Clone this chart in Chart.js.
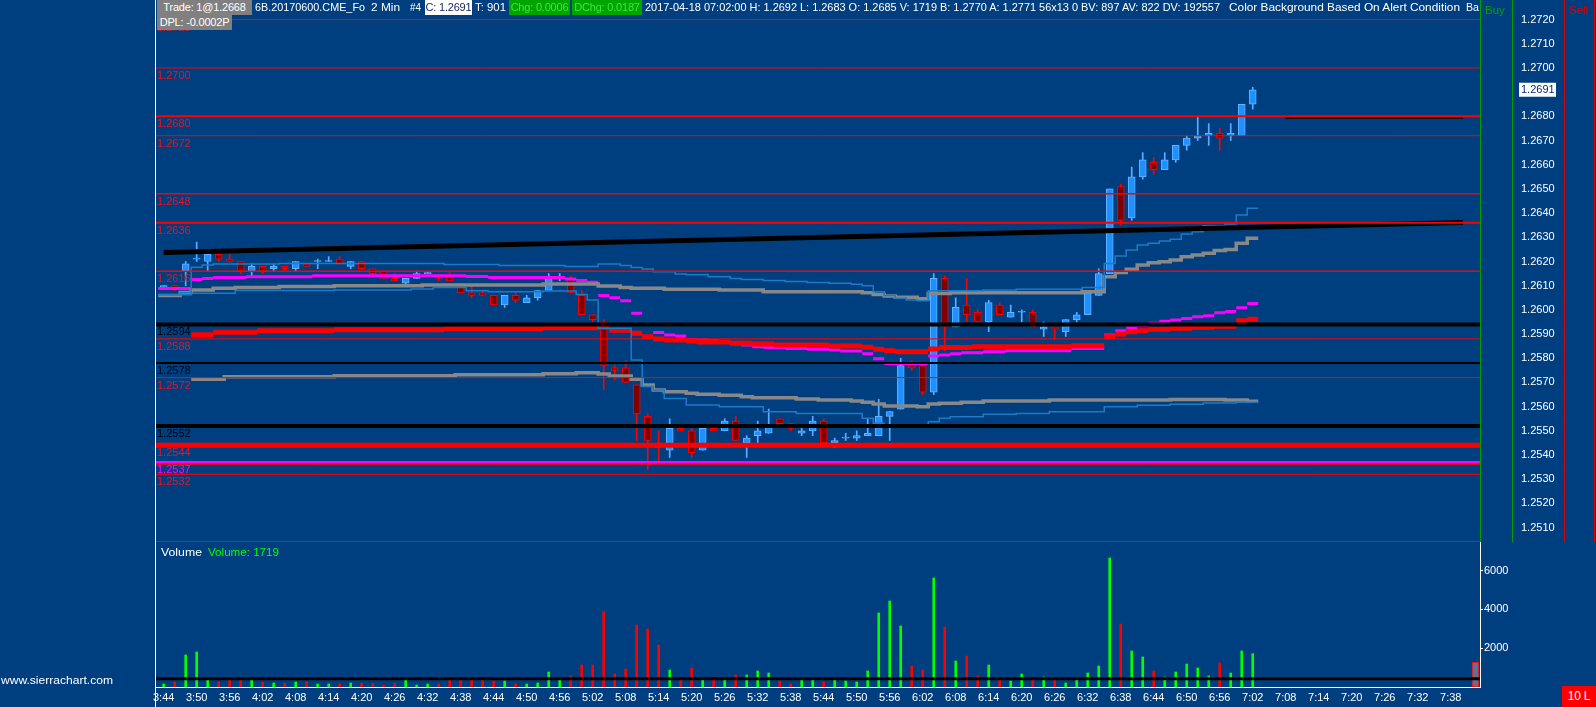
<!DOCTYPE html>
<html><head><meta charset="utf-8">
<script src="https://cdn.jsdelivr.net/npm/chart.js@4.4.0/dist/chart.umd.min.js"></script>
<style>
body{margin:0;background:#003F7F;width:1596px;height:707px;overflow:hidden;position:relative;font-family:"Liberation Sans",Arial,sans-serif}
canvas{position:absolute;left:0}
.t{position:absolute;top:0;font-size:11.5px;line-height:15px;height:15px;white-space:pre;color:#fff;transform-origin:0 0}
.box{position:absolute;top:0;height:15px;font-size:11px;line-height:15px;white-space:pre;text-align:center;overflow:hidden;letter-spacing:-0.2px}
.g{background:#808080;color:#fff}
.w{background:#fff;color:#12245a}
.gr{background:#00A400;color:#3CE63C}
</style></head>
<body>
<canvas id="cp" width="1596" height="542" style="top:0"></canvas>
<canvas id="cv" width="1596" height="165" style="top:542px"></canvas>

<div style="position:absolute;left:155px;top:0;width:1px;height:707px;background:#fff"></div>
<div class="box g" style="left:157px;width:95px">Trade: 1@1.2668</div>
<div class="box g" style="left:157px;top:15px;width:75px">DPL: -0.0002P</div>
<div class="t" style="left:255px" data-w="110">6B.20170600.CME_Fo</div>
<div class="t" style="left:371px" data-w="29">2 Min</div>
<div class="t" style="left:410px" data-w="11">#4</div>
<div class="box w" style="left:425px;width:47px">C: 1.2691</div>
<div class="t" style="left:475px" data-w="31">T: 901</div>
<div class="box gr" style="left:509px;width:61px">Chg: 0.0006</div>
<div class="box gr" style="left:572px;width:70px">DChg: 0.0187</div>
<div class="t" style="left:645px" data-w="575">2017-04-18 07:02:00 H: 1.2692 L: 1.2683 O: 1.2685 V: 1719 B: 1.2770 A: 1.2771 56x13 0 BV: 897 AV: 822 DV: 192557</div>
<div class="t" style="left:1229px" data-w="231">Color Background Based On Alert Condition</div>
<div class="t" style="left:1466px" data-w="13">Ba</div>
<div class="t" style="left:1485px;top:3px;color:#00A000">Buy</div>
<div class="t" style="left:1569px;top:3px;color:#E00000">Sell</div>
<div class="t" style="left:161px;top:545px;font-size:11px" data-w="41">Volume</div>
<div class="t" style="left:208px;top:545px;font-size:11px;color:#00FF00" data-w="71">Volume: 1719</div>
<div class="t" style="left:1px;top:673px;font-size:11px" data-w="112">www.sierrachart.com</div>
<div class="box" style="left:1562px;top:686px;width:34px;height:21px;line-height:21px;font-size:12px;background:#FF0000;color:#fff">10 L</div>

<script>
// 2 min bars, slot 0 = 3:44
const tickLabels = ["3:44","3:50","3:56","4:02","4:08","4:14","4:20","4:26","4:32","4:38","4:44","4:50","4:56","5:02","5:08","5:14","5:20","5:26","5:32","5:38","5:44","5:50","5:56","6:02","6:08","6:14","6:20","6:26","6:32","6:38","6:44","6:50","6:56","7:02","7:08","7:14","7:20","7:26","7:32","7:38"];
const priceTickRange = [1.2510, 1.2720];
const volumeTicks = [2000,4000,6000];

const opens = [
1.2609,1.2610,1.2616,1.2621,1.2620,1.2623,1.2621,1.2620,1.2616,1.2618,
1.2617,1.2618,1.2617,1.2619,1.2620,1.2620,1.2621,1.2618,1.2620,1.2617,
1.2616,1.2613,1.2611,1.2613,1.2615,1.2614,1.2614,1.2611,1.2607,1.2607,
1.2606,1.2602,1.2606,1.2603,1.2605,1.2608,1.2613,1.2613,1.2606,1.2598,
1.2595,1.2576,1.2576,1.2569,1.2556,1.2545,1.2542,1.2551,1.2550,1.2542,
1.2551,1.2550,1.2554,1.2545,1.2548,1.2549,1.2555,1.2553,1.2549,1.2550,
1.2554,1.2545,1.2547,1.2547,1.2548,1.2548,1.2556,1.2559,1.2578,1.2577,
1.2566,1.2613,1.2593,1.2602,1.2599,1.2595,1.2602,1.2597,1.2599,1.2599,
1.2592,1.2593,1.2591,1.2596,1.2598,1.2606,1.2615,1.2651,1.2638,1.2655,
1.2661,1.2658,1.2662,1.2668,1.2671,1.2672,1.2673,1.2672,1.2672,1.2685];
const highs = [
1.2610,1.2610,1.2620,1.2628,1.2623,1.2623,1.2623,1.2620,1.2619,1.2618,
1.2619,1.2618,1.2620,1.2619,1.2621,1.2622,1.2622,1.2620,1.2620,1.2617,
1.2616,1.2615,1.2613,1.2616,1.2616,1.2614,1.2616,1.2611,1.2610,1.2608,
1.2606,1.2606,1.2607,1.2606,1.2608,1.2615,1.2615,1.2614,1.2608,1.2598,
1.2596,1.2577,1.2579,1.2569,1.2557,1.2550,1.2555,1.2551,1.2551,1.2551,
1.2551,1.2555,1.2556,1.2548,1.2554,1.2559,1.2555,1.2553,1.2552,1.2556,
1.2555,1.2547,1.2549,1.2550,1.2555,1.2563,1.2558,1.2580,1.2579,1.2578,
1.2615,1.2614,1.2605,1.2613,1.2600,1.2604,1.2603,1.2602,1.2600,1.2600,
1.2595,1.2593,1.2596,1.2599,1.2608,1.2617,1.2650,1.2652,1.2659,1.2665,
1.2663,1.2665,1.2668,1.2672,1.2680,1.2677,1.2675,1.2677,1.2685,1.2692];
const lows = [
1.2609,1.2608,1.2610,1.2620,1.2616,1.2620,1.2620,1.2615,1.2614,1.2615,
1.2616,1.2616,1.2616,1.2618,1.2617,1.2620,1.2619,1.2617,1.2617,1.2614,
1.2613,1.2612,1.2610,1.2613,1.2615,1.2612,1.2612,1.2607,1.2605,1.2606,
1.2602,1.2601,1.2603,1.2603,1.2604,1.2608,1.2612,1.2607,1.2598,1.2595,
1.2567,1.2571,1.2570,1.2546,1.2534,1.2537,1.2539,1.2550,1.2539,1.2542,
1.2550,1.2550,1.2546,1.2539,1.2545,1.2549,1.2552,1.2550,1.2548,1.2548,
1.2545,1.2543,1.2546,1.2546,1.2548,1.2548,1.2546,1.2559,1.2575,1.2565,
1.2565,1.2583,1.2593,1.2595,1.2595,1.2591,1.2598,1.2597,1.2595,1.2593,
1.2589,1.2588,1.2589,1.2595,1.2598,1.2606,1.2615,1.2635,1.2637,1.2654,
1.2656,1.2658,1.2661,1.2666,1.2670,1.2668,1.2666,1.2670,1.2672,1.2683];
const closes = [
1.2610,1.2609,1.2619,1.2621,1.2623,1.2621,1.2620,1.2616,1.2618,1.2616,
1.2618,1.2617,1.2620,1.2618,1.2620,1.2620,1.2619,1.2620,1.2617,1.2615,
1.2613,1.2612,1.2613,1.2615,1.2615,1.2613,1.2612,1.2607,1.2606,1.2606,
1.2602,1.2606,1.2604,1.2605,1.2608,1.2613,1.2613,1.2607,1.2598,1.2596,
1.2577,1.2575,1.2570,1.2557,1.2546,1.2543,1.2551,1.2550,1.2541,1.2551,
1.2550,1.2554,1.2546,1.2547,1.2550,1.2552,1.2553,1.2551,1.2550,1.2554,
1.2545,1.2546,1.2547,1.2548,1.2549,1.2556,1.2558,1.2577,1.2576,1.2566,
1.2613,1.2593,1.2601,1.2598,1.2595,1.2603,1.2598,1.2599,1.2599,1.2593,
1.2593,1.2592,1.2596,1.2598,1.2607,1.2615,1.2650,1.2637,1.2655,1.2662,
1.2658,1.2662,1.2668,1.2671,1.2672,1.2673,1.2671,1.2673,1.2685,1.2691];
const volumes = [
155,258,1650,1804,361,258,378,378,361,258,
206,189,258,258,155,155,155,206,189,189,
103,189,361,103,155,155,361,395,361,361,
309,309,155,155,206,773,361,567,1134,1134,
3883,670,928,3196,2990,2165,876,361,979,361,
515,361,619,619,825,722,309,155,361,361,
258,361,309,258,825,3814,4432,3144,1082,876,
5618,3092,1340,1598,567,1134,361,309,670,361,
515,361,206,361,722,1082,6649,3247,1855,1546,
825,515,773,1185,979,567,1237,722,1855,1719];
const volumeAvg = 430;
const edgeVolume = 1290;

// price levels
const redLevels = [1.2720,1.2700,1.2680,1.2672,1.2648,1.2636,1.2616,1.2588,1.2572,1.2544,1.2536,1.2532];
const blackLevels = [1.2594,1.2578,1.2552];
const magentaLevels = [1.2537];
const unlabeled = [1.2536];

// step studies: [slot where value starts, value]
const tealUpper = [[-0.5,1.26063],[1.5,1.26071],[2.5,1.26176],[3.5,1.26185],[4.5,1.26190],[10.5,1.26192],[25.5,1.26188],[30.5,1.26183],[36.5,1.26179],[39.5,1.26190],[41.5,1.26183],[42.5,1.26175],[43.5,1.26169],[44.5,1.26158],[46.5,1.26148],[47.5,1.26145],[49.5,1.26137],[51.5,1.26130],[52.5,1.26126],[54.5,1.26121],[56.5,1.26117],[58.5,1.26113],[60.5,1.26110],[62.5,1.26106],[63.5,1.26100],[64.5,1.26075],[65.5,1.26059],[66.5,1.26048],[67.5,1.26041],[68.5,1.26038],[69.5,1.26079],[74.5,1.26082],[77.5,1.26085],[83.5,1.26093],[85.5,1.26192],[86.5,1.26223],[87.5,1.26248],[88.5,1.26268],[89.5,1.26275],[90.5,1.26285],[91.5,1.26292],[92.5,1.26314],[93.5,1.26323],[94.5,1.26348],[96.5,1.26355],[97.5,1.26392],[98.5,1.26420],[99.5,1.26420]];
const tealLower = [[-0.5,1.26063],[2.5,1.26069],[6.5,1.26080],[15.5,1.26082],[22.5,1.26086],[24.5,1.26092],[27.5,1.26079],[29.5,1.26075],[34.5,1.26078],[37.5,1.26064],[38.5,1.26041],[39.5,1.25924],[42.5,1.25793],[43.5,1.25683],[44.5,1.25669],[45.5,1.25634],[47.5,1.25607],[50.5,1.25600],[54.5,1.25579],[57.5,1.25572],[63.5,1.25552],[64.5,1.25531],[65.5,1.25517],[69.5,1.25538],[70.5,1.25552],[71.5,1.25558],[74.5,1.25568],[77.5,1.25572],[80.5,1.25579],[85.5,1.25600],[88.5,1.25606],[91.5,1.25610],[94.5,1.25615],[97.5,1.25618],[99.5,1.25618]];
const grayUpper = [[-0.5,1.26059],[1.5,1.26072],[2.5,1.26082],[4.5,1.26089],[6.5,1.26093],[10.5,1.26097],[15.5,1.26100],[23.5,1.26103],[34.5,1.26107],[39.5,1.26099],[41.5,1.26093],[42.5,1.26089],[45.5,1.26085],[50.5,1.26082],[54.5,1.26075],[63.5,1.26071],[64.5,1.26064],[65.5,1.26057],[66.5,1.26052],[68.5,1.26046],[69.5,1.26068],[71.5,1.26071],[83.5,1.26075],[85.5,1.26137],[86.5,1.26154],[87.5,1.26168],[88.5,1.26185],[89.5,1.26195],[90.5,1.26199],[91.5,1.26206],[92.5,1.26220],[93.5,1.26227],[94.5,1.26234],[95.5,1.26245],[96.5,1.26250],[97.5,1.26275],[98.5,1.26296],[99.5,1.26296]];
const grayLower = [[2.5,1.25713],[5.5,1.25724],[15.5,1.25728],[26.5,1.25732],[34.5,1.25736],[37.5,1.25740],[39.5,1.25735],[40.5,1.25727],[42.5,1.25713],[43.5,1.25689],[44.5,1.25669],[45.5,1.25662],[47.5,1.25655],[48.5,1.25651],[50.5,1.25647],[52.5,1.25641],[53.5,1.25637],[57.5,1.25632],[59.5,1.25627],[62.5,1.25623],[63.5,1.25618],[64.5,1.25611],[65.5,1.25603],[68.5,1.25600],[69.5,1.25611],[70.5,1.25614],[72.5,1.25618],[74.5,1.25623],[80.5,1.25627],[91.5,1.25630],[96.5,1.25627],[98.5,1.25622],[99.5,1.25622]];
const magentaStep = [[-0.5,1.26088],[2.5,1.26126],[3.5,1.26130],[4.5,1.26134],[7.5,1.26137],[13.5,1.26141],[27.5,1.26138],[29.5,1.26134],[36.5,1.26128],[37.5,1.26121],[38.5,1.26114],[39.5,1.26059],[40.5,1.26050],[41.5,1.26038],[42.5,1.25986],[43.5,1.25940],[44.5,1.25906],[45.5,1.25896],[46.5,1.25892],[47.5,1.25878],[48.5,1.25875],[49.5,1.25873],[50.5,1.25869],[51.5,1.25862],[52.5,1.25855],[53.5,1.25848],[54.5,1.25844],[56.5,1.25840],[58.5,1.25837],[60.5,1.25834],[61.5,1.25830],[63.5,1.25819],[64.5,1.25798],[65.5,1.25778],[69.5,1.25809],[70.5,1.25813],[71.5,1.25819],[72.5,1.25823],[74.5,1.25827],[76.5,1.25831],[82.5,1.25840],[85.5,1.25896],[86.5,1.25914],[87.5,1.25926],[88.5,1.25935],[89.5,1.25945],[90.5,1.25953],[91.5,1.25958],[92.5,1.25964],[93.5,1.25972],[94.5,1.25976],[95.5,1.25988],[96.5,1.25993],[97.5,1.26009],[98.5,1.26026],[99.5,1.26026]];
const redStep = [[2.5,1.25897],[4.5,1.25907],[8.5,1.25914],[15.5,1.25918],[25.5,1.25922],[34.5,1.25926],[39.5,1.25928],[40.5,1.25916],[42.5,1.25903],[43.5,1.25889],[44.5,1.25880],[45.5,1.25875],[47.5,1.25871],[48.5,1.25867],[51.5,1.25862],[53.5,1.25859],[55.5,1.25855],[60.5,1.25851],[63.5,1.25845],[64.5,1.25837],[65.5,1.25831],[66.5,1.25827],[69.5,1.25838],[70.5,1.25844],[73.5,1.25848],[82.5,1.25852],[85.5,1.25889],[86.5,1.25900],[87.5,1.25910],[88.5,1.25914],[89.5,1.25920],[91.5,1.25924],[93.5,1.25928],[95.5,1.25932],[97.5,1.25955],[98.5,1.25961],[99.5,1.25961]];
const trendLine = [[0,1.26237],[118.1,1.26361]];
const highProjection = [[102,1.26795],[118.1,1.26795]];

// ---- layout
const X_MIN = -0.79, X_MAX = 119.66;
const P_MIN = 1.250404, P_MAX = 1.27281;
const V_MAX = 7474;
const redWidths = [1,1,2,1,1.5,2,1.5,1,1,5,1,1];
const blackWidths = [4,2,4];

Chart.defaults.font.family = '"Liberation Sans", Arial, sans-serif';
Chart.defaults.font.size = 11;
Chart.defaults.color = '#fff';

const up = opens.map((o,i)=>closes[i] >= o);
const pts = arr => arr.map(([x,y])=>({x,y}));
function dashes(arr){
  const out=[];
  for(let i=0;i<arr.length-1;i++){
    out.push({x:arr[i][0],y:arr[i][1]},{x:arr[i+1][0],y:arr[i][1]},{x:arr[i+1][0],y:null});
  }
  return out;
}
const flat = v => [{x:X_MIN,y:v},{x:X_MAX,y:v}];
function line(data,color,width,order,extra){
  return Object.assign({type:'line',data,borderColor:color,borderWidth:width,pointRadius:0,fill:false,order,spanGaps:false,borderCapStyle:'butt'},extra||{});
}
function fixBox(w,h){
  return s=>{
    if(w!=null) s.width=w;
    if(h!=null) s.height=h;
    s.paddingTop=0; s.paddingBottom=0; s.paddingLeft=0; s.paddingRight=0;
  };
}
function priceTicks(s){
  const t=[];
  const n=Math.round((priceTickRange[1]-priceTickRange[0])/0.001);
  for(let k=0;k<=n;k++) t.push({value:+(priceTickRange[0]+k*0.001).toFixed(4)});
  s.ticks=t;
}

const priceSets = [];
redLevels.forEach((p,i)=>priceSets.push(line(flat(p),'#FF0000',redWidths[i],0)));
blackLevels.forEach((p,i)=>priceSets.push(line(flat(p),'#000000',blackWidths[i],0)));
magentaLevels.forEach(p=>priceSets.push(line(flat(p),'#FF00FF',2.5,0)));
priceSets.push(line(pts(trendLine),'#000000',5,1));
priceSets.push(line(pts(highProjection),'#000000',3,1));
priceSets.push(line(pts(tealUpper),'#1B7BC4',1.5,2,{stepped:true}));
priceSets.push(line(pts(tealLower),'#1B7BC4',1.5,2,{stepped:true}));
priceSets.push(line(pts(grayUpper),'#888888',3.5,2,{stepped:true}));
priceSets.push(line(pts(grayLower),'#888888',3.5,2,{stepped:true}));
priceSets.push(line(dashes(redStep),'#FF0000',5,2));
priceSets.push(line(dashes(magentaStep),'#FF00FF',3,2));
priceSets.push({type:'bar',data:opens.map((o,i)=>({x:i,y:[o,closes[i]]})),barThickness:7,
  backgroundColor:up.map(u=>u?'#1E90FF':'#800000'),borderColor:up.map(u=>u?'#63B3FF':'#FF0000'),
  borderWidth:1,borderSkipped:false,minBarLength:1,grouped:false,order:5});
priceSets.push({type:'bar',data:opens.map((o,i)=>({x:i,y:[lows[i],highs[i]]})),barThickness:1,
  backgroundColor:up.map(u=>u?'#5AAEFF':'#FF0000'),grouped:false,order:6});

const decor = {
  id:'decor',
  afterDatasetsDraw(chart){
    const ctx=chart.ctx, y=chart.scales.y, a=chart.chartArea;
    ctx.save();
    ctx.font='11px "Liberation Sans", Arial, sans-serif';
    ctx.textBaseline='alphabetic';
    const lab=(p,c)=>{ if(unlabeled.includes(p)) return; ctx.fillStyle=c; ctx.fillText(p.toFixed(4),a.left+2,y.getPixelForValue(p)+11); };
    redLevels.forEach(p=>lab(p,'#F01020'));
    blackLevels.forEach(p=>lab(p,'#000000'));
    magentaLevels.forEach(p=>lab(p,'#FF00FF'));
    ctx.restore();
  },
  afterDraw(chart){
    const ctx=chart.ctx, y=chart.scales.y, a=chart.chartArea;
    ctx.save();
    ctx.lineWidth=1;
    ctx.strokeStyle='#FF0000';
    ctx.beginPath(); ctx.moveTo(a.left,a.bottom-0.5); ctx.lineTo(a.right,a.bottom-0.5); ctx.stroke();
    ctx.strokeStyle='#00A000';
    ctx.beginPath(); ctx.moveTo(a.right+32.5,0); ctx.lineTo(a.right+32.5,a.bottom); ctx.stroke();
    ctx.strokeStyle='#E00000';
    [84.5,114.5].forEach(dx=>{ctx.beginPath(); ctx.moveTo(a.right+dx,0); ctx.lineTo(a.right+dx,a.bottom); ctx.stroke();});
    const last=closes[closes.length-1], py=y.getPixelForValue(last);
    ctx.fillStyle='#fff'; ctx.fillRect(a.right+39,py-7,37,14);
    ctx.fillStyle='#0A2A6A'; ctx.font='11px "Liberation Sans", Arial, sans-serif';
    ctx.textBaseline='middle'; ctx.fillText(last.toFixed(4),a.right+41,py+0.5);
    ctx.restore();
  }
};

new Chart(document.getElementById('cp'),{
  type:'bar',
  data:{datasets:priceSets},
  plugins:[decor],
  options:{
    responsive:false,animation:false,devicePixelRatio:1,events:[],
    layout:{padding:{left:155,right:0,top:0,bottom:0},autoPadding:false},
    plugins:{legend:{display:false},tooltip:{enabled:false}},
    scales:{
      x:{type:'linear',min:X_MIN,max:X_MAX,offset:false,bounds:'data',display:false},
      y:{position:'right',min:P_MIN,max:P_MAX,bounds:'data',afterFit:fixBox(116,null),
        afterBuildTicks:priceTicks,
        grid:{display:false,drawTicks:false},border:{display:true,color:'#00A000',width:1},
        ticks:{padding:41,color:'#fff',callback:v=>v.toFixed(4)}}
    }
  }
});

new Chart(document.getElementById('cv'),{
  type:'bar',
  data:{datasets:[
    line(flat(volumeAvg),'#000000',3,0),
    {type:'bar',data:volumes.map((v,i)=>({x:i,y:v})),barThickness:2,
      backgroundColor:up.map(u=>u?'#00FF00':'#FF0000'),grouped:false,order:2},
    {type:'bar',data:[{x:119.25,y:edgeVolume}],barThickness:7,backgroundColor:'#5B7294',
      borderColor:'#FF0000',borderWidth:1,borderSkipped:false,grouped:false,order:3}
  ]},
  options:{
    responsive:false,animation:false,devicePixelRatio:1,events:[],
    layout:{padding:{left:155,right:0,top:0,bottom:0},autoPadding:false},
    plugins:{legend:{display:false},tooltip:{enabled:false}},
    scales:{
      x:{type:'linear',min:X_MIN,max:X_MAX,offset:false,bounds:'data',afterFit:fixBox(null,20),
        grid:{display:false,drawTicks:false},border:{display:true,color:'#fff'},
        afterBuildTicks:s=>{s.ticks=tickLabels.map((_,i)=>({value:i*3}));},
        ticks:{autoSkip:false,maxRotation:0,padding:4,color:'#fff',callback:v=>tickLabels[Math.round(v/3)]}},
      y:{position:'right',min:0,max:V_MAX,bounds:'data',afterFit:fixBox(116,null),
        afterBuildTicks:s=>{s.ticks=volumeTicks.map(v=>({value:v}));},
        grid:{display:true,drawOnChartArea:false,drawTicks:true,tickLength:3,color:'#fff'},
        border:{display:true,color:'#fff'},
        ticks:{padding:1,color:'#fff',callback:v=>String(v)}}
    }
  }
});

document.querySelectorAll('[data-w]').forEach(el=>{
  const w=el.getBoundingClientRect().width;
  if(w>0) el.style.transform='scaleX('+(el.dataset.w/w)+')';
});
</script>
</body></html>
